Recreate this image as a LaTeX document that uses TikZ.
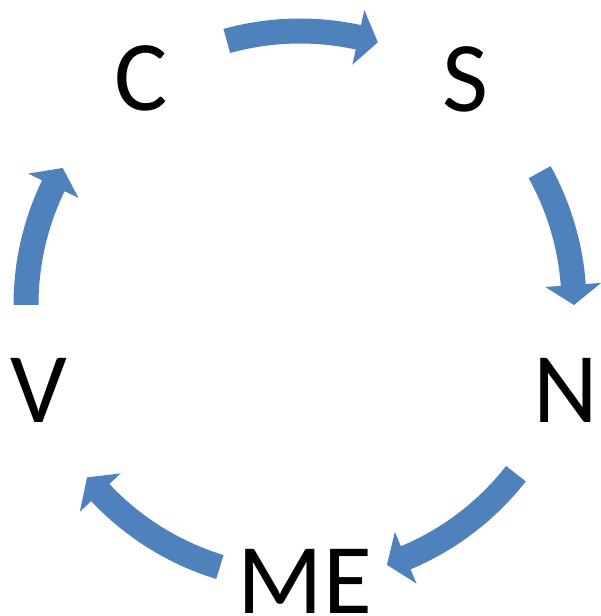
\documentclass[tikz,border=0pt]{standalone}
\usepackage{fontspec}
\setmainfont{Carlito}
\usetikzlibrary{calc}
\definecolor{arrowblue}{HTML}{4F81BD}
\tikzset{
  lbl/.style={anchor=base, inner sep=0pt, text=black, font=\fontsize{100}{100}\selectfont},
  cyclefill/.style={fill=arrowblue, draw=none}
}
% #1 tail angle, #2 tip angle
\newcommand\mycycarrow[2]{%
  \pgfmathsetmacro\mysgn{sign(#2-#1)}%
  \pgfmathsetmacro\mybb{#2-\mysgn*4.2}%
  \fill[cyclefill] ($(O)+(#1:286.5pt)$) arc[start angle=#1, end angle=\mybb, radius=286.5pt]
    -- ($(O)+(\mybb:302pt)$) -- ($(O)+(#2:274pt)$) -- ($(O)+(\mybb:246pt)$)
    -- ($(O)+(\mybb:261.5pt)$) arc[start angle=\mybb, end angle=#1, radius=261.5pt] -- cycle;
}
\begin{document}
\begin{tikzpicture}
\useasboundingbox (0pt,0pt) rectangle (600pt,616pt);
\coordinate (O) at (300pt,311pt);
\node[lbl] (C) at (141pt,505pt) {C};
\node[lbl] (S) at (465pt,504pt) {S};
\node[lbl] (N) at (566pt,193pt) {N};
\node[lbl] (ME) at (305pt,2pt) {ME};
\node[lbl] (V) at (39pt,193pt) {V};
\mycycarrow{105.5}{73.5}
\mycycarrow{29}{0}
\mycycarrow{-38}{-71.5}
\mycycarrow{-107}{-141}
\mycycarrow{180}{150}
\end{tikzpicture}
\end{document}
